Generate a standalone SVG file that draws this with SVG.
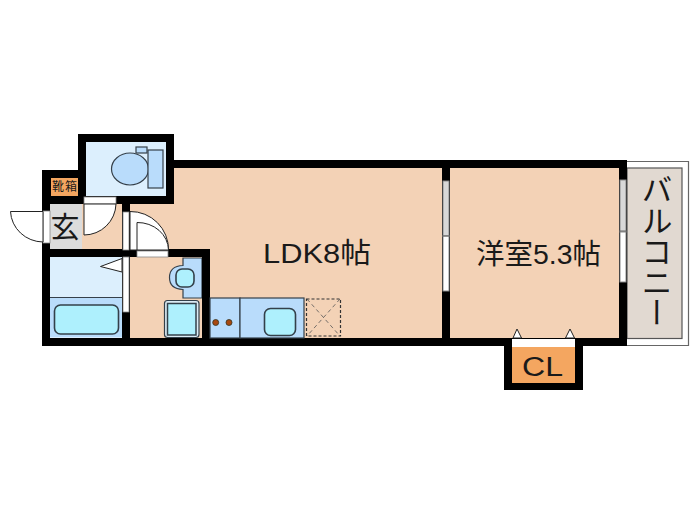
<svg xmlns="http://www.w3.org/2000/svg" width="700" height="525" viewBox="0 0 700 525">
<style>
.t{font-family:"Liberation Sans","Noto Sans CJK JP",sans-serif;fill:#1a1a1a}
.j{font-family:"Noto Sans CJK JP",sans-serif;fill:#1a1a1a}
.w{fill:#000}
.f{fill:#f3d2b6}
.lb{fill:#dceffd}
.mb{fill:#b9dcfb;stroke:#35404a;stroke-width:1.2}
.cy{fill:#aef0fd;stroke:#33404a;stroke-width:1.6}
.door{fill:#fff;stroke:#222;stroke-width:1}
.op{fill:#fff;stroke:#888;stroke-width:.8}
.pan{fill:#fff;stroke:#8a8a8a;stroke-width:1}
.pan2{fill:#d8d8d8;stroke:#8a8a8a;stroke-width:1}
.dash{fill:none;stroke:#333;stroke-width:1.2;stroke-dasharray:3 2}
.dash2{fill:none;stroke:#555;stroke-width:.8;stroke-dasharray:4 3}
</style>

<g id="balcony">
<path d="M627 161.500H688.500V345.500H627" fill="#fff" stroke="#666" stroke-width="1.200"/>
<rect x="627" y="168" width="55" height="170.500" fill="#e1d9d1" stroke="#555" stroke-width="1.200"/>
<text class="j" font-size="31" writing-mode="vertical-rl" x="657" y="174" textLength="154" lengthAdjust="spacing">バルコニー</text>
</g>

<g id="floors">
<rect class="f" x="130" y="168" width="312" height="170"/>
<rect class="f" x="450" y="168" width="169" height="170"/>
<rect class="f" x="82" y="204" width="40" height="45"/>
<rect class="f" x="130" y="257" width="72" height="81"/>
</g>

<g id="walls">
<rect class="w" x="78" y="134" width="96" height="70"/>
<rect class="w" x="42" y="170" width="44" height="34"/>
<rect class="w" x="166" y="160" width="461" height="8"/>
<rect class="w" x="42" y="170" width="8" height="176"/>
<rect class="w" x="42" y="249" width="168" height="8"/>
<rect class="w" x="202" y="249" width="8" height="97"/>
<rect class="w" x="122" y="204" width="8" height="134"/>
<rect class="w" x="442" y="160" width="8" height="186"/>
<rect class="w" x="619" y="160" width="8" height="186"/>
<rect class="w" x="42" y="338" width="585" height="8"/>
<rect class="w" x="504" y="338" width="79" height="52"/>
</g>

<g id="toilet">
<rect class="lb" x="86" y="142" width="80" height="54"/>
<rect class="mb" x="136" y="147" width="11" height="6"/>
<ellipse class="mb" cx="130" cy="169" rx="18.500" ry="16"/>
<rect class="mb" x="148" y="150" width="15" height="38"/>
<rect class="op" x="84" y="197" width="32" height="7"/>
</g>

<g id="shoebox">
<rect x="51" y="178" width="27" height="18" fill="#f4a660"/>
<text class="j" x="64.500" y="191" font-size="12" text-anchor="middle" textLength="25">靴箱</text>
</g>

<g id="entrance">
<rect x="50" y="204" width="32" height="45" fill="#dcdcdc"/>
<text class="j" x="65" y="238" font-size="29" text-anchor="middle">玄</text>
<rect class="op" x="43" y="211" width="7" height="32"/>
<path class="door" d="M10.500 211.500H43V242A33 32 0 0 1 10.500 211.500Z"/>
<path class="door" d="M84 204H116A32 32 0 0 1 84 235Z"/>
</g>

<g id="bath">
<rect class="lb" x="50" y="257" width="72" height="40"/>
<rect x="50" y="297" width="72" height="40.500" fill="#b9dcfb"/>
<rect x="50" y="297" width="72" height="1" fill="#35404a"/>
<rect class="cy" x="54.500" y="305" width="64" height="29" rx="6"/>
<path class="door" d="M100.500 266.500L122 258.500V272Z"/>
<rect class="op" x="123" y="257" width="6" height="55"/>
</g>

<g id="doors">
<rect class="op" x="123" y="212" width="6" height="38"/>
<path class="door" d="M130 211.500A38 38 0 0 1 168.500 250H130Z"/>
<path class="door" d="M137 250V222.500A31 28 0 0 1 168.500 250Z"/>
<rect class="op" x="137" y="251" width="31" height="6"/>
</g>

<g id="washroom">
<path d="M183 258H202V298H183V289.500Q169.500 289 169.500 277.500Q169.500 266 183 265.500Z" fill="#b9dcfb" stroke="#35404a" stroke-width="1.200"/>
<rect x="202" y="257" width="1" height="42" fill="#000"/>
<rect class="cy" x="176" y="269" width="18" height="18" rx="6"/>
<rect x="164.500" y="300.500" width="34.500" height="37" rx="3" fill="#dcecf5" stroke="#33404a" stroke-width="1.200"/>
<rect x="167.500" y="303.500" width="28.500" height="31.500" fill="#aef0fd" stroke="#33404a" stroke-width="1.500"/>
</g>

<g id="kitchen">
<rect class="mb" x="210" y="298" width="30" height="40"/>
<rect class="mb" x="240" y="298" width="64" height="40"/>
<circle cx="215.700" cy="322.500" r="3" fill="#a8480f" stroke="#332" stroke-width=".8"/>
<circle cx="229" cy="322.500" r="3" fill="#a8480f" stroke="#332" stroke-width=".8"/>
<rect class="cy" x="264.500" y="308.500" width="31" height="27" rx="6"/>
<rect class="dash" x="306.500" y="299" width="34" height="37"/>
<path class="dash2" d="M307 299L340 336M340 299L307 336"/>
</g>

<g id="ldk">
<text class="t" x="263" y="263" font-size="28" textLength="108" lengthAdjust="spacingAndGlyphs">LDK8帖</text>
<rect class="pan2" x="443" y="181" width="6" height="55"/>
<rect class="pan" x="443" y="236" width="6" height="55"/>
<path d="M442 236H450" stroke="#666" stroke-width="1"/>
</g>

<g id="room">
<text class="t" x="476" y="264" font-size="28.500" textLength="125" lengthAdjust="spacingAndGlyphs">洋室5.3帖</text>
<rect class="pan2" x="620" y="180" width="6" height="52"/>
<rect class="pan" x="620" y="232" width="6" height="50"/>
<path d="M619 231H627" stroke="#666" stroke-width="1"/>
<path class="door" d="M513 338L517 329L521.500 338Z"/>
<path class="door" d="M565.500 338L570 329L574.500 338Z"/>
</g>

<g id="closet">
<rect x="512" y="339" width="63" height="8" fill="#fff"/>
<rect x="512" y="347" width="63" height="36" fill="#f4a660"/>
<text class="t" x="522" y="376" font-size="27" textLength="41" lengthAdjust="spacingAndGlyphs">CL</text>
</g>
</svg>
